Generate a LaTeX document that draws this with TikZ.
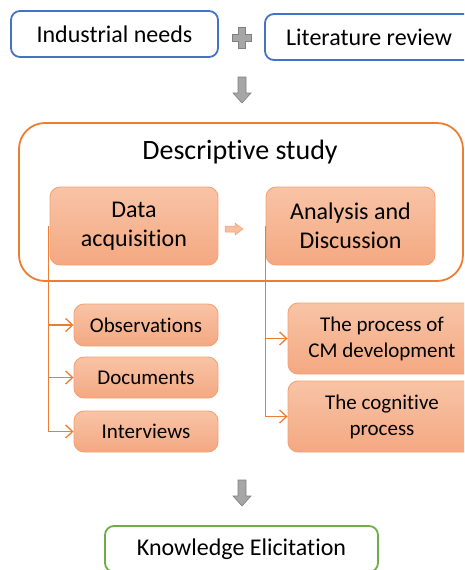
\documentclass[tikz,border=0pt]{standalone}
\usepackage{fontspec}
\setmainfont{Carlito}[RawFeature=-liga]
\usetikzlibrary{arrows.meta}
\definecolor{cblue}{HTML}{4472C4}
\definecolor{corange}{HTML}{ED7D31}
\definecolor{cedge}{HTML}{F4A273}
\definecolor{ftop}{HTML}{F8C4A6}
\definecolor{fbot}{HTML}{F4A882}
\definecolor{cgreen}{HTML}{70AD47}
\definecolor{gfill}{HTML}{A6A6A6}
\definecolor{gedge}{HTML}{808080}
\tikzset{
  bluebox/.style={draw=cblue, line width=1.8pt, rounded corners=9pt, align=center, font=\fontsize{24}{28}\selectfont},
  obox/.style={draw=cedge, line width=0.9pt, rounded corners=10pt, top color=ftop, bottom color=fbot, align=center, text=black},
  bigtxt/.style={font=\fontsize{24}{29}\selectfont},
  smalltxt/.style={font=\fontsize{21}{26}\selectfont},
  conn/.style={draw=corange, line width=1.4pt, -{Straight Barb[length=7pt,width=13pt,line width=1.3pt]}},
  grayarrow/.style={fill=gfill, draw=gedge, line width=0.6pt},
}
\begin{document}
\begin{tikzpicture}[x=1pt,y=-1pt]
\useasboundingbox (0,0) rectangle (464,570);
\clip (0,0) rectangle (464,570);
% top inputs
\node[bluebox, minimum width=207pt, minimum height=46pt] (ind) at (114.5,34) {Industrial needs};
\node[bluebox, minimum width=208pt, minimum height=46pt] (lit) at (369,37) {Literature review};
% plus sign
\path[grayarrow] (238,27) -- (245,27) -- (245,34) -- (251,34) -- (251,41) -- (245,41) -- (245,48) -- (238,48) -- (238,41) -- (232,41) -- (232,34) -- (238,34) -- cycle;
% down arrow 1
\path[grayarrow] (238,77) -- (246,77) -- (246,93) -- (251,93) -- (242,103) -- (233,93) -- (238,93) -- cycle;
% descriptive study frame
\node[draw=corange, line width=1.8pt, rounded corners=26pt, minimum width=444pt, minimum height=158pt] (ds) at (241,202) {};
\node[font=\fontsize{28}{32}\selectfont] (dst) at (240,152) {Descriptive study};
% main boxes
\node[obox, bigtxt, minimum width=168pt, minimum height=78pt] (da) at (134,226) {Data\\acquisition};
\node[obox, bigtxt, minimum width=169pt, minimum height=78pt] (an) at (350.5,226) {Analysis and\\Discussion};
% small orange arrow
\path[fill=ftop!80!fbot, draw=cedge, line width=0.5pt] (225,226) -- (235,226) -- (235,223) -- (243,229) -- (235,235) -- (235,232) -- (225,232) -- cycle;
% sub boxes left
\node[obox, smalltxt, minimum width=144pt, minimum height=42pt] (obs) at (146,325) {Observations};
\node[obox, smalltxt, minimum width=144pt, minimum height=41pt] (doc) at (146,377.5) {Documents};
\node[obox, smalltxt, minimum width=144pt, minimum height=41pt] (int) at (146,431.5) {Interviews};
% sub boxes right
\node[obox, smalltxt, minimum width=188pt, minimum height=71pt] (proc) at (382,338.5) {The process of\\CM development};
\node[obox, smalltxt, minimum width=188pt, minimum height=71pt] (cog) at (382,416.5) {The cognitive\\process};
% connectors
\draw[conn] ([xshift=-1pt]da.west) |- (obs.west);
\draw[conn] ([xshift=-1pt]da.west) |- (doc.west);
\draw[conn] ([xshift=-1pt]da.west) |- (int.west);
\draw[conn] (an.west) |- (proc.west);
\draw[conn] (an.west) |- (cog.west);
% down arrow 2
\path[grayarrow] (238,480) -- (246,480) -- (246,496) -- (251,496) -- (242,506) -- (233,496) -- (238,496) -- cycle;
% output
\node[draw=cgreen, line width=1.8pt, rounded corners=9pt, minimum width=273pt, minimum height=46pt, font=\fontsize{24}{28}\selectfont] (ke) at (241.5,549) {Knowledge Elicitation};
\end{tikzpicture}
\end{document}
